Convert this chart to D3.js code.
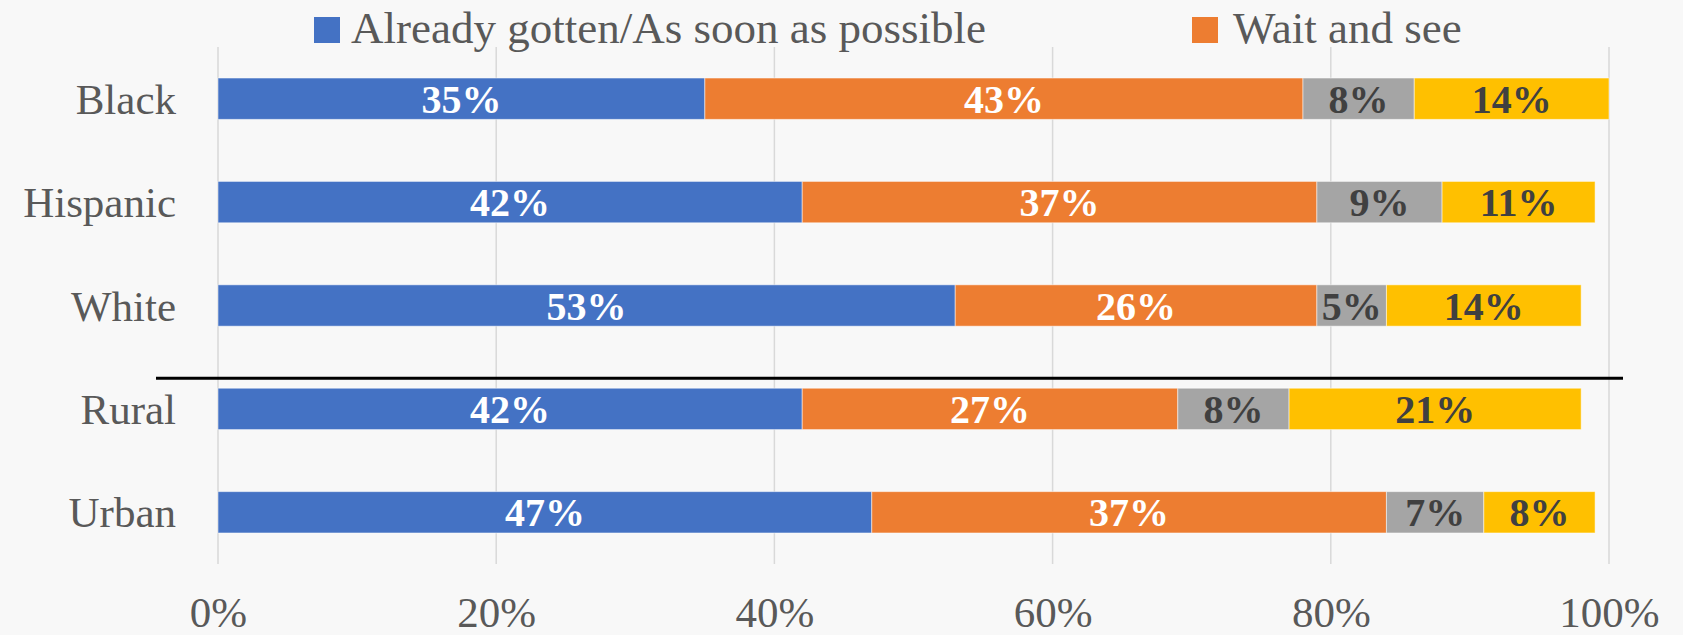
<!DOCTYPE html>
<html><head><meta charset="utf-8">
<script src="https://cdn.jsdelivr.net/npm/d3@7"></script>
<style>html,body{margin:0;padding:0;background:#F8F8F8;}svg{display:block;}</style>
</head><body><div id="chart"></div>
<script>
const categories = ["Black","Hispanic","White","Rural","Urban"];
const seriesKeys = ["asap","wait","s3","s4"];
const legendLabels = ["Already gotten/As soon as possible","Wait and see"];
const asapValues = [35,42,53,42,47];
const waitValues = [43,37,26,27,37];
const s3Values = [8,9,5,8,7];
const s4Values = [14,11,14,21,8];
const tickValues = [0,20,40,60,80,100];
const colors = ["#4472C4","#ED7D31","#A5A5A5","#FFC000"];
const labelColors = ["#FFFFFF","#FFFFFF","#404040","#404040"];

const W = 1683, H = 635;
const svg = d3.select("#chart").append("svg").attr("width",W).attr("height",H);
svg.append("rect").attr("width",W).attr("height",H).attr("fill","#F8F8F8");

const data = categories.map((c,i)=>({cat:c, asap:asapValues[i], wait:waitValues[i], s3:s3Values[i], s4:s4Values[i]}));
const stack = d3.stack().keys(seriesKeys)(data);

const x = d3.scaleLinear().domain([0,100]).range([218,1609]);
const y = d3.scaleBand().domain(categories).range([47,564]).paddingInner(0.6).paddingOuter(0.3);

const font = "'Liberation Serif','Times New Roman',serif";

// gridlines
svg.append("g").selectAll("line").data(tickValues).join("line")
  .attr("x1",d=>x(d)).attr("x2",d=>x(d)).attr("y1",47).attr("y2",564)
  .attr("stroke","#D9D9D9").attr("stroke-width",1.5);

// bars
stack.forEach((s,si)=>{
  const g = svg.append("g");
  g.selectAll("rect").data(s).join("rect")
    .attr("x",d=>x(d[0])).attr("width",d=>x(d[1])-x(d[0]))
    .attr("y",d=>y(d.data.cat)).attr("height",y.bandwidth())
    .attr("fill",colors[si]).attr("stroke","#FFFFFF").attr("stroke-opacity",0.5).attr("stroke-width",1);
  g.selectAll("text").data(s).join("text")
    .attr("x",d=>(x(d[0])+x(d[1]))/2).attr("y",d=>y(d.data.cat)+y.bandwidth()/2)
    .attr("dy","0.35em").attr("text-anchor","middle")
    .attr("font-family",font).attr("font-weight","bold").attr("font-size",40)
    .attr("fill",labelColors[si])
    .text(d=>Math.round(d[1]-d[0])+"%");
});

// category labels
svg.append("g").selectAll("text").data(categories).join("text")
  .attr("x",176).attr("y",d=>y(d)+y.bandwidth()/2).attr("dy","0.35em")
  .attr("text-anchor","end").attr("font-family",font).attr("font-size",43).attr("fill","#595959")
  .text(d=>d);

// separator line
const sepY = y("Rural") - 10;
svg.append("line").attr("x1",156).attr("x2",1623).attr("y1",sepY).attr("y2",sepY)
  .attr("stroke","#000").attr("stroke-width",3);

// x axis
const xAxis = d3.axisBottom(x).tickValues(tickValues).tickFormat(d=>d+"%").tickSize(0);
const ax = svg.append("g").attr("transform","translate(0,593)").call(xAxis);
ax.select(".domain").remove();
ax.selectAll("text").attr("font-family",font).attr("font-size",43).attr("fill","#595959").attr("dy","0.72em");

// legend
const legendX = [314, 1192];
const lg = svg.append("g").selectAll("g").data(legendLabels).join("g")
  .attr("transform",(d,i)=>`translate(${legendX[i]},0)`);
lg.append("rect").attr("x",0).attr("y",17).attr("width",26).attr("height",26).attr("fill",(d,i)=>colors[i]);
lg.append("text").attr("x",(d,i)=>i===0?37:41).attr("y",43).attr("font-family",font).attr("font-size",45).attr("fill","#595959").text(d=>d);
</script></body></html>
